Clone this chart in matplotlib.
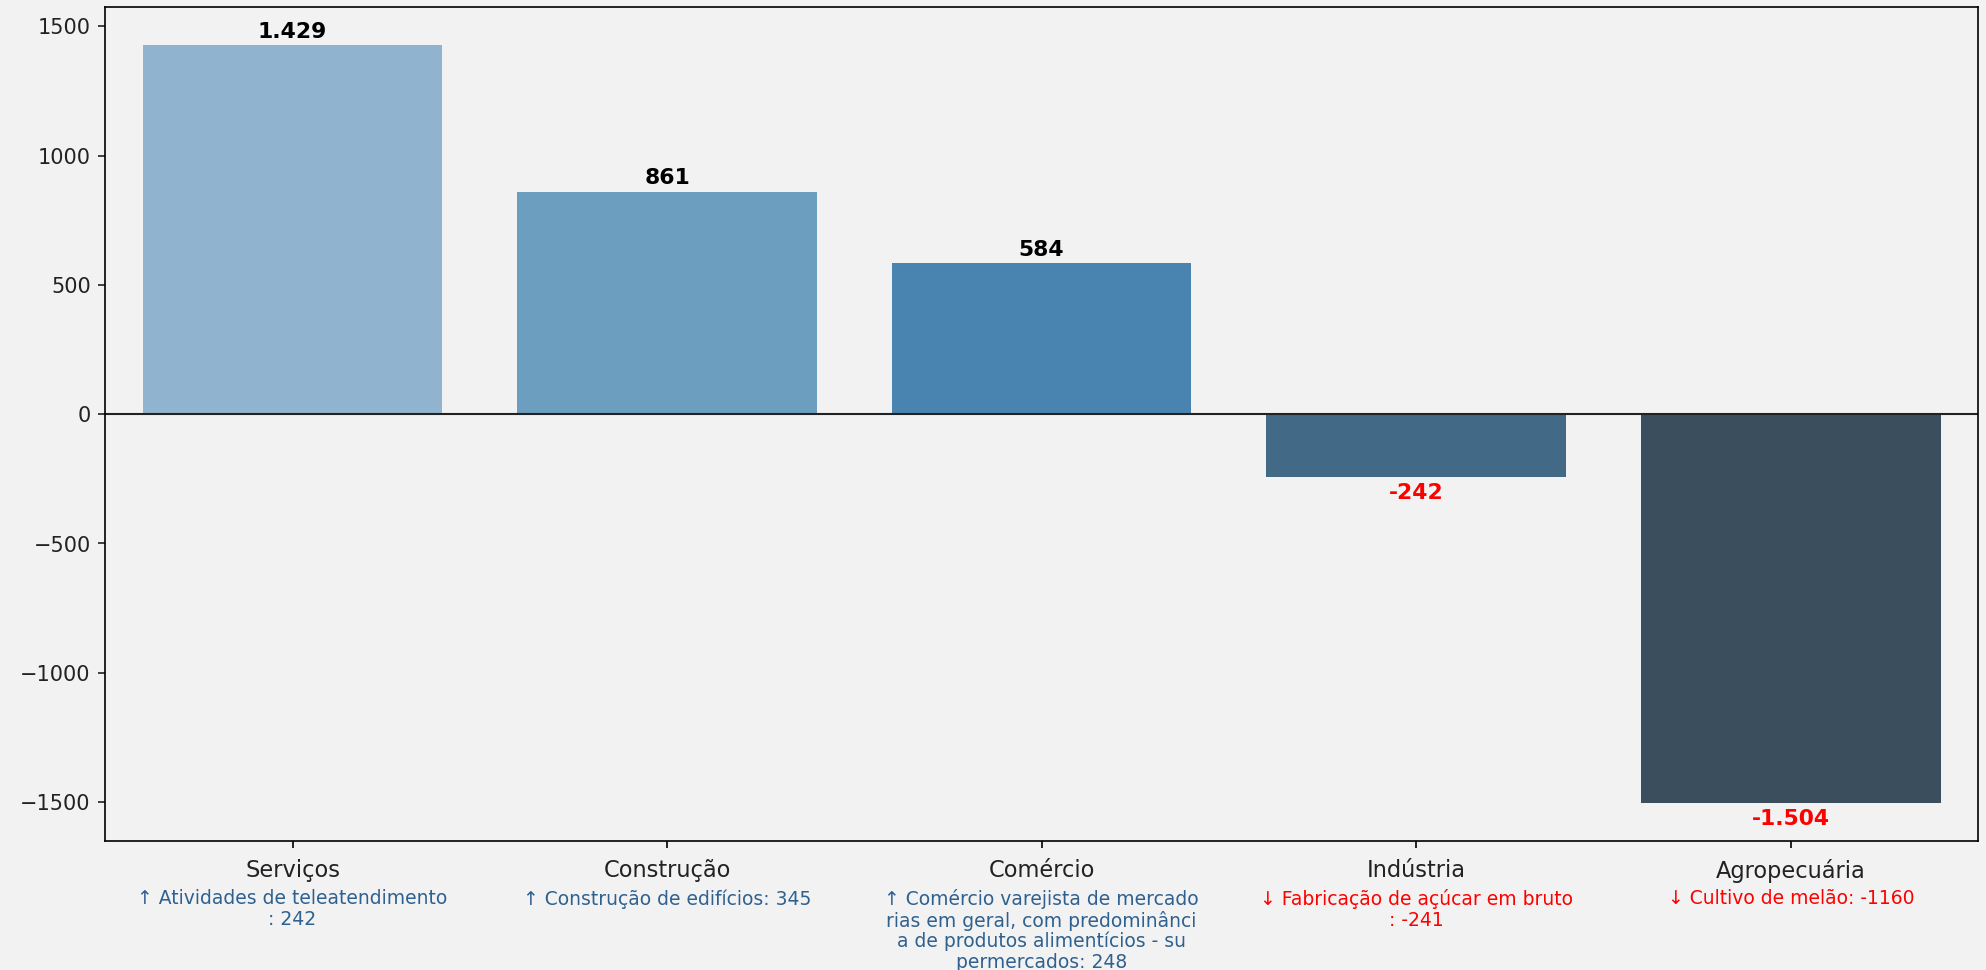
import matplotlib.pyplot as plt
from matplotlib.transforms import blended_transform_factory

# dados
setores = ['Serviços', 'Construção', 'Comércio', 'Indústria', 'Agropecuária']
saldos = [1429, 861, 584, -242, -1504]
destaques = [
    'Atividades de teleatendimento',
    'Construção de edifícios',
    'Comércio varejista de mercadorias em geral, com predominância de produtos alimentícios - supermercados',
    'Fabricação de açúcar em bruto',
    'Cultivo de melão',
]
destaque_valores = [242, 345, 248, -241, -1160]
cores = ['#90b4cf', '#6c9ec0', '#4884af', '#426985', '#3b4e5d']

fundo = '#f2f2f2'
fig, ax = plt.subplots(figsize=(13.24, 6.467), dpi=150)
fig.patch.set_facecolor(fundo)
ax.set_facecolor(fundo)

x = range(len(setores))
ax.bar(x, saldos, width=0.8, color=cores)
ax.axhline(0, color='#222222', linewidth=1)

# rotulos dos valores
for i, v in enumerate(saldos):
    txt = f'{abs(v):,}'.replace(',', '.')
    if v < 0:
        txt = '-' + txt
        ax.annotate(txt, (i, v), xytext=(0, -3), textcoords='offset points',
                    ha='center', va='top', fontsize=10.5, fontweight='bold', color='red')
    else:
        ax.annotate(txt, (i, v), xytext=(0, 1.5), textcoords='offset points',
                    ha='center', va='bottom', fontsize=10.5, fontweight='bold', color='black')

ax.set_xticks(list(x))
ax.set_xticklabels(setores, fontsize=10.8, color='#222222')
ax.tick_params(axis='x', pad=5)
ax.tick_params(axis='y', labelsize=10, colors='#222222')
ax.set_xlim(-0.5, len(setores) - 0.5)
ax.margins(y=0.05)

# destaques abaixo dos setores
trans = blended_transform_factory(ax.transData, ax.transAxes)
for i, (nome, val) in enumerate(zip(destaques, destaque_valores)):
    seta = '↑' if val >= 0 else '↓'
    s = f'{seta} {nome}: {val}'
    linhas = [s[k:k + 31] for k in range(0, len(s), 31)]
    cor = '#2f6190' if val >= 0 else 'red'
    ax.text(i, -0.058, '\n'.join(linhas), transform=trans, ha='center', va='top',
            fontsize=9, color=cor, linespacing=1.08)

plt.subplots_adjust(left=0.053, right=0.996, top=0.993, bottom=0.133)
plt.savefig('out.png', dpi=150, facecolor=fundo)
